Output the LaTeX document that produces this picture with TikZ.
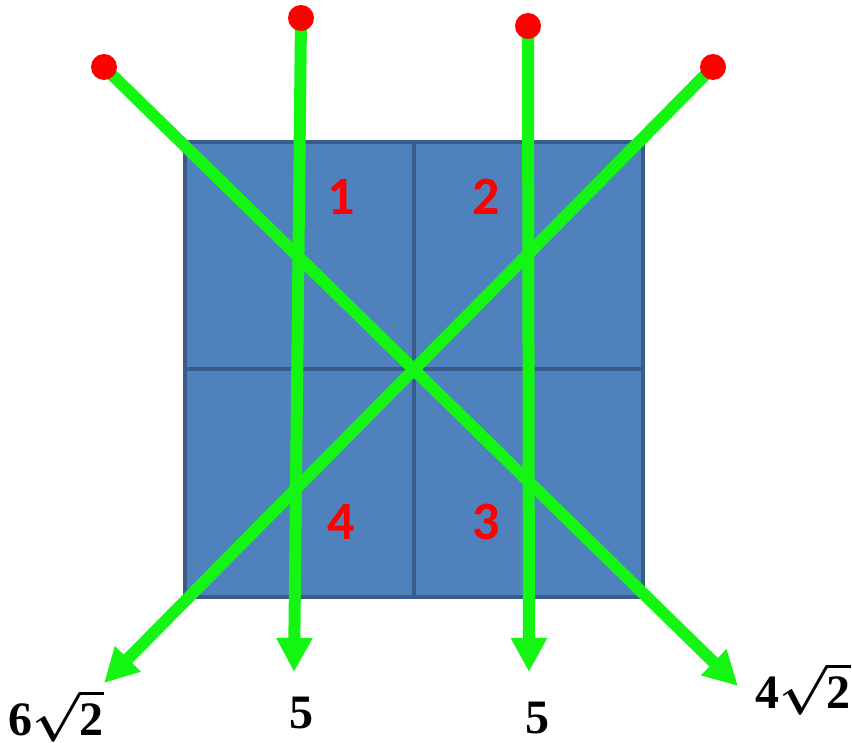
\documentclass[tikz,border=0pt]{standalone}
\usepackage{fontspec}
\newfontfamily\cellfont{Carlito}
\newfontfamily\resultfont{Liberation Serif}
\usetikzlibrary{arrows.meta}
\definecolor{clrcell}{HTML}{4F81BD}
\definecolor{clrcellline}{HTML}{385D8A}
\definecolor{clrray}{HTML}{14F514}
\definecolor{clrdot}{HTML}{FF0000}
\newcommand{\rootof}[1]{$\sqrt{\mbox{#1}}$}
\begin{document}
\begin{tikzpicture}[
    x=0.5pt, y=-0.5pt,
    cellline/.style={draw=clrcellline, line width=2pt},
    ray/.style={draw=clrray, line width=6pt, -{Triangle[length=17pt, width=17pt]}},
    dot/.style={circle, fill=clrdot, minimum size=13pt, inner sep=0pt},
    cellnum/.style={font=\cellfont\bfseries\fontsize{27}{29}\selectfont, text=clrdot},
    result/.style={font=\resultfont\bfseries\fontsize{24}{27}\selectfont\boldmath, text=black, inner sep=0pt, anchor=base},
]
\useasboundingbox (0,0) rectangle (852,743);
% grid
\node[fill=clrcell, cellline, minimum width=229pt, minimum height=227.5pt, inner sep=0pt] (grid) at (414,369.5) {};
\draw[cellline] (grid.north) -- (grid.south);
\draw[cellline] (grid.west) -- (grid.east);
\node[cellnum] (n_1) at (341,197) {1};
\node[cellnum] (n_2) at (486,197) {2};
\node[cellnum] (n_3) at (486,522) {3};
\node[cellnum] (n_4) at (341,522) {4};
% rays
\coordinate (s_1) at (104,67);
\coordinate (s_2) at (301,18);
\coordinate (s_3) at (528,26);
\coordinate (s_4) at (713,67);
\coordinate (t_1) at (738,686);
\coordinate (t_2) at (294,672);
\coordinate (t_3) at (529,672);
\coordinate (t_4) at (104,683);
\draw[ray] (s_1) -- (t_1);
\draw[ray] (s_2) -- (t_2);
\draw[ray] (s_3) -- (t_3);
\draw[ray] (s_4) -- (t_4);
\foreach \i in {1,...,4}
    \node[dot] (d_\i) at (s_\i) {};
% results
\node[result] (r_4) at (56,735) {6\rootof{2}};
\node[result] (r_2) at (301,728) {5};
\node[result] (r_3) at (537,733) {5};
\node[result] (r_1) at (803,708) {4\rootof{2}};
\end{tikzpicture}
\end{document}
